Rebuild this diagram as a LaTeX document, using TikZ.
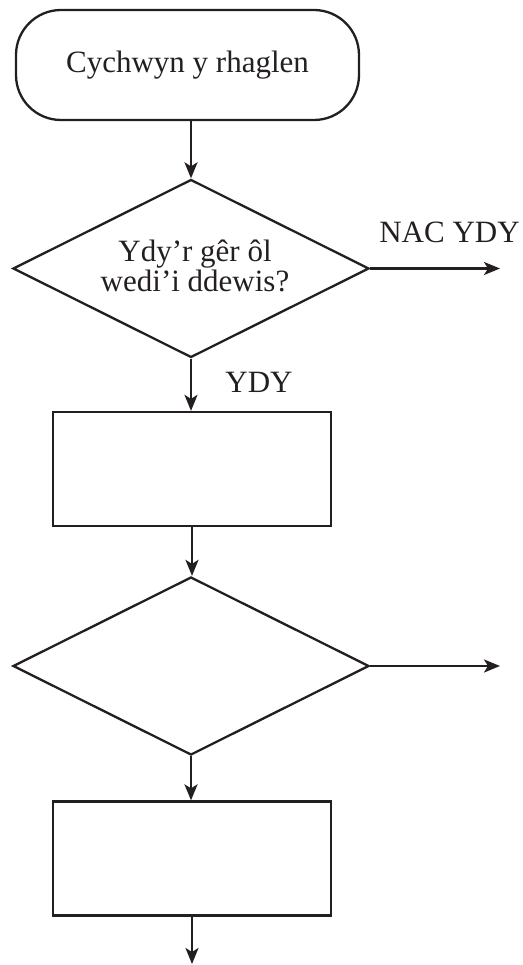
\documentclass[tikz,border=0pt]{standalone}
\usepackage{fontspec}
\setmainfont{Liberation Serif}
\usetikzlibrary{shapes.geometric,arrows.meta}
\definecolor{ink}{HTML}{231F20}
\begin{document}
\begin{tikzpicture}[x=1pt,y=-1pt,
  every node/.style={font=\fontsize{31}{30}\selectfont, text=ink},
  shp/.style={draw=ink, line width=2.3pt, inner sep=0pt},
  term/.style={shp, rectangle, rounded corners=45pt, minimum width=343pt, minimum height=110pt},
  procbox/.style={shp, rectangle, minimum width=278pt, minimum height=114pt},
  decide/.style={shp, diamond, minimum width=356pt, minimum height=178pt},
  flow/.style={draw=ink, line width=2.3pt, -{Stealth[length=16pt,width=13pt,inset=4pt]}},
  lbl/.style={inner sep=0pt, anchor=base}
]
\useasboundingbox (0,0) rectangle (522,965);
\node[term] (start) at (187.5,65) {Cychwyn y rhaglen};
\node[decide] (d1) at (191,268.5) {};
\node[inner sep=0pt, align=center] (q1) at (195,266) {Ydy’r gêr ôl\\wedi’i ddewis?};
\node[procbox] (b1) at (192,469) {};
\node[decide] (d2) at (191,666) {};
\node[procbox] (b2) at (192,858.5) {};
\coordinate (o1) at (500,268.5);
\coordinate (o2) at (500,666);
\coordinate (fin) at (192,964);
\node[lbl] (nac) at (449.5,243) {NAC YDY};
\node[lbl] (ydy) at (259,392) {YDY};
\draw[flow] (d1.north |- start.south) -- (d1.north);
\draw[flow] (d1.east) -- (o1);
\draw[flow] (d1.south) -- (d1.south |- b1.north);
\draw[flow] (b1.south) -- (b1.south |- d2.north);
\draw[flow] (d2.east) -- (o2);
\draw[flow] (d2.south) -- (d2.south |- b2.north);
\draw[flow] (b2.south) -- (fin);
\end{tikzpicture}
\end{document}
